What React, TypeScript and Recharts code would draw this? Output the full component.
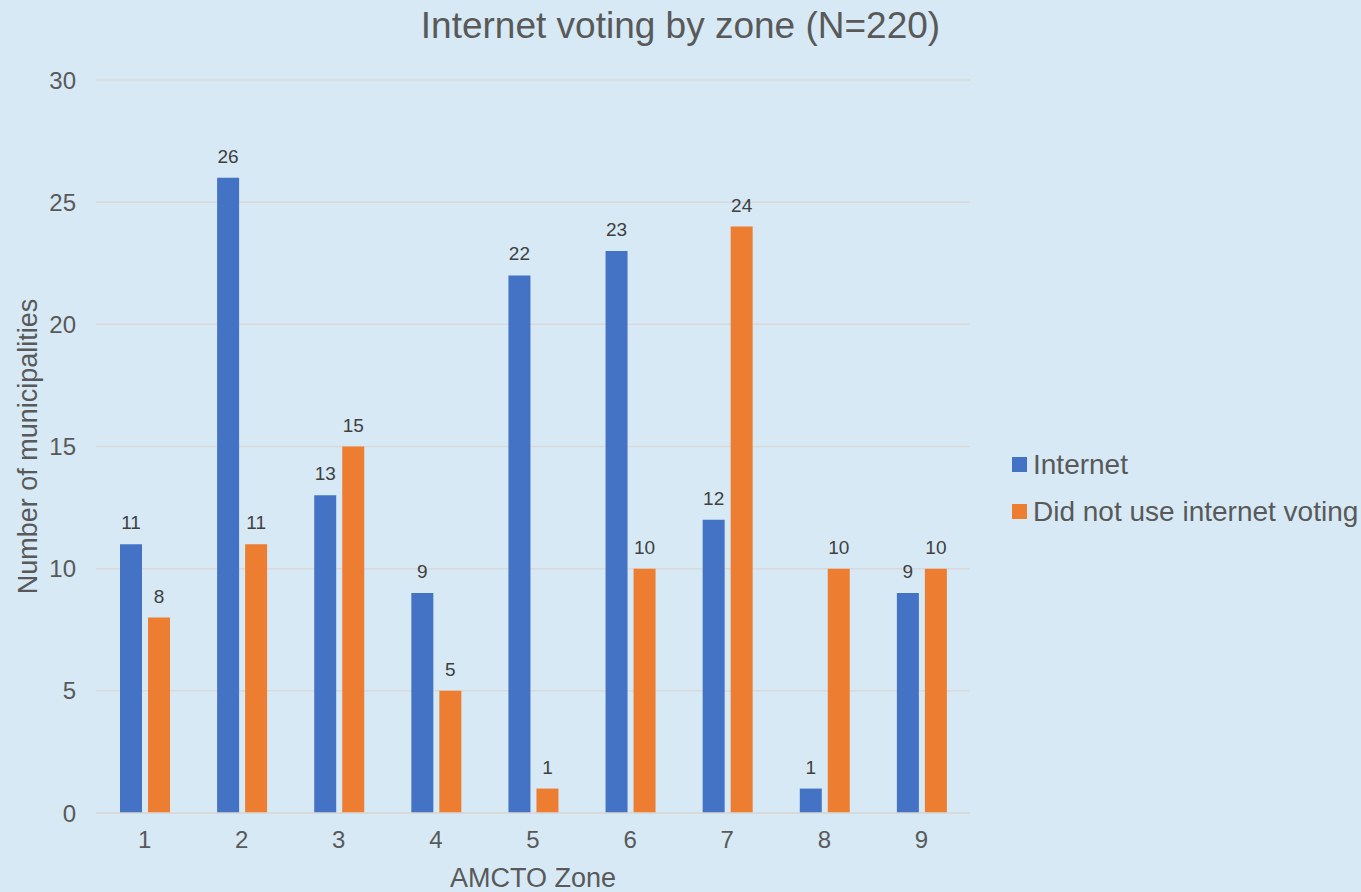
import { BarChart, Bar, XAxis, YAxis, CartesianGrid, LabelList } from 'recharts';

const zones = ['1', '2', '3', '4', '5', '6', '7', '8', '9'];
const internet = [11, 26, 13, 9, 22, 23, 12, 1, 9];
const didNotUse = [8, 11, 15, 5, 1, 10, 24, 10, 10];
const yTicks = [0, 5, 10, 15, 20, 25, 30];

const chartData = zones.map((zone, i) => ({
  zone,
  internet: internet[i],
  didNotUse: didNotUse[i],
}));

const FONT = '"Liberation Sans", Arial, sans-serif';
const TEXT = '#595959';

const legendItems = [
  { label: 'Internet', color: '#4472C4' },
  { label: 'Did not use internet voting', color: '#ED7D31' },
];

export default function App() {
  return (
    <div
      style={{
        position: 'absolute',
        left: 0,
        top: 0,
        width: 1361,
        height: 892,
        background: '#D6E9F5',
        fontFamily: FONT,
        overflow: 'hidden',
      }}
    >
      <div
        style={{
          position: 'absolute',
          top: 4,
          left: 0,
          width: 1361,
          textAlign: 'center',
          fontSize: 37,
          color: TEXT,
          lineHeight: '44px',
        }}
      >
        Internet voting by zone (N=220)
      </div>

      {/* legend on the right */}
      <div style={{ position: 'absolute', left: 1012, top: 441 }}>
        {legendItems.map((it) => (
          <div key={it.label} style={{ display: 'flex', alignItems: 'center', height: 47 }}>
            <span style={{ width: 15, height: 15, background: it.color, marginRight: 6, display: 'inline-block' }} />
            <span style={{ fontSize: 28, color: TEXT, whiteSpace: 'nowrap' }}>{it.label}</span>
          </div>
        ))}
      </div>

      <BarChart
        width={1361}
        height={892}
        data={chartData}
        margin={{ top: 80, right: 391, bottom: 0, left: 16 }}
        barGap={6}
        barSize={22}
        style={{ position: 'absolute', left: 0, top: 0 }}
      >
        <CartesianGrid vertical={false} stroke="#D9D9D9" strokeWidth={1.5} />
        <XAxis
          dataKey="zone"
          height={79}
          tickLine={false}
          axisLine={{ stroke: '#D9D9D9', strokeWidth: 1.5 }}
          tick={{ fill: TEXT, fontSize: 24, fontFamily: FONT }}
          tickMargin={12}
          label={{ value: 'AMCTO Zone', position: 'insideBottom', offset: 5, fill: TEXT, fontSize: 27, fontFamily: FONT }}
        />
        <YAxis
          width={80}
          domain={[0, 30]}
          ticks={yTicks}
          interval={0}
          tickLine={false}
          axisLine={false}
          tick={{ fill: TEXT, fontSize: 24, fontFamily: FONT }}
          tickMargin={14}
          label={{
            value: 'Number of municipalities',
            angle: -90,
            position: 'center',
            dx: -29,
            fill: TEXT,
            fontSize: 27,
            fontFamily: FONT,
          }}
        />
        <Bar dataKey="internet" name="Internet" fill="#4472C4" isAnimationActive={false}>
          <LabelList dataKey="internet" position="top" offset={15} fill="#404040" fontSize={19} fontFamily={FONT} />
        </Bar>
        <Bar dataKey="didNotUse" name="Did not use internet voting" fill="#ED7D31" isAnimationActive={false}>
          <LabelList dataKey="didNotUse" position="top" offset={15} fill="#404040" fontSize={19} fontFamily={FONT} />
        </Bar>
      </BarChart>
    </div>
  );
}
